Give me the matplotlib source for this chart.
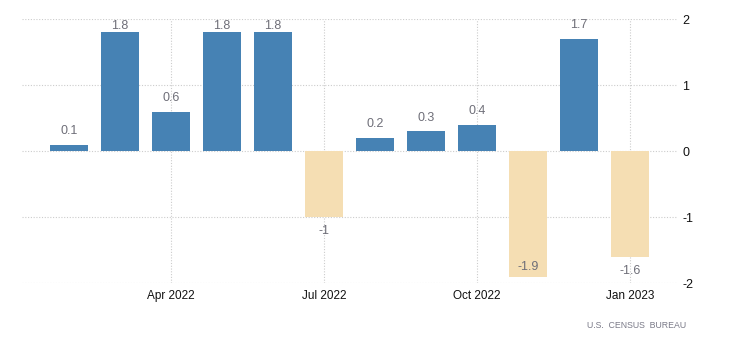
import matplotlib
matplotlib.use("Agg")
import matplotlib.pyplot as plt

# monthly change, Feb 2022 - Jan 2023
months = ["Feb 2022", "Mar 2022", "Apr 2022", "May 2022", "Jun 2022", "Jul 2022",
          "Aug 2022", "Sep 2022", "Oct 2022", "Nov 2022", "Dec 2022", "Jan 2023"]
values = [0.1, 1.8, 0.6, 1.8, 1.8, -1, 0.2, 0.3, 0.4, -1.9, 1.7, -1.6]
tick_labels = ["Apr 2022", "Jul 2022", "Oct 2022", "Jan 2023"]
y_ticks = [-2, -1, 0, 1, 2]
source = "U.S.  CENSUS  BUREAU"

plt.rcParams['font.family'] = ['Liberation Sans', 'DejaVu Sans']

fig = plt.figure(figsize=(7.3, 3.49), dpi=100)
ax = fig.add_axes([0.0301, 0.1883, 0.8973, 0.7564])

x = list(range(len(values)))
colors = ['#4682B4' if v >= 0 else '#F5DEB3' for v in values]
ax.bar(x, values, width=0.745, color=colors, zorder=2)

ax.set_xlim(-0.92, 11.92)
ax.set_ylim(-2, 2)

# value labels, kept inside the plot area
ymin, ymax = ax.get_ylim()
lbl = dict(ha='center', fontsize=9, color='#6e6e78')
for xi, v in zip(x, values):
    txt = '%g' % v
    if v >= 0:
        y = v + 0.12
        if y + 0.14 > ymax:
            ax.text(xi, ymax - 0.01, txt, va='top', **lbl)
        else:
            ax.text(xi, y, txt, va='bottom', **lbl)
    else:
        y = v - 0.12
        if y - 0.14 < ymin:
            ax.text(xi, v + 0.05, txt, va='bottom', **lbl)
        else:
            ax.text(xi, y, txt, va='top', **lbl)

ax.set_xticks([months.index(m) for m in tick_labels])
ax.set_xticklabels(tick_labels, fontsize=8.5, color='#111111')
ax.set_yticks(y_ticks)
ax.set_yticklabels([str(t) for t in y_ticks], fontsize=9, color='#111111')
ax.yaxis.tick_right()
ax.tick_params(axis='both', length=0)
ax.tick_params(axis='y', pad=4)
ax.tick_params(axis='x', pad=5)

ax.grid(True, color='#cccccc', linestyle=(0, (1, 1.5)), linewidth=0.8, zorder=0)
ax.set_axisbelow(True)
for s in ax.spines.values():
    s.set_visible(False)

fig.text(0.9397, 0.068, source, ha='right', va='center', fontsize=6.3, color='#7a7a88')

fig.savefig('out.png', dpi=100)
